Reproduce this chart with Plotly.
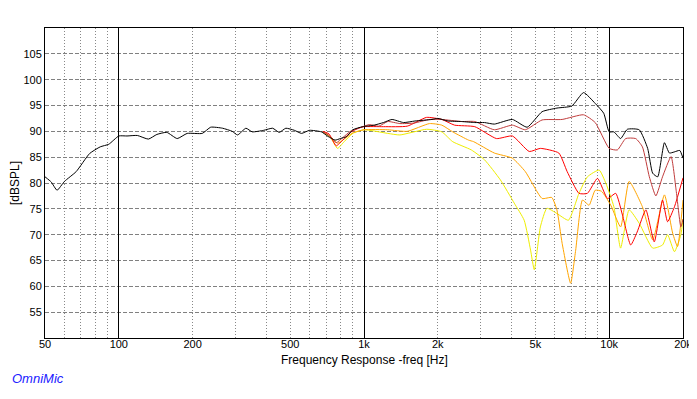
import plotly.graph_objects as go
import numpy as np

# ---------------- data ----------------
black_f = [50, 53, 56, 60, 67, 76, 84, 91, 100, 108, 119, 132, 143, 157, 173, 190, 219, 237, 265, 290,
           305, 330, 350, 390, 424, 451, 480, 520, 556, 600, 670, 714, 762, 800, 850, 900, 988, 1100,
           1200, 1300, 1450, 1613, 1893, 2000, 2200, 2500, 2830, 3100, 3400, 4029, 4628, 5325, 6122,
           7040, 7860, 8770, 9500, 10000, 10450, 11130, 11860, 13260, 14350, 15040, 15770, 16800,
           17600, 18400, 19400, 20000]
black_db = [81.2, 80.2, 78.6, 80.3, 82.2, 85.7, 87.0, 87.5, 89.1, 89.1, 89.2, 88.5, 89.4, 89.8, 88.6,
            89.6, 89.6, 90.8, 90.6, 90.0, 89.3, 90.6, 89.9, 90.2, 90.6, 89.8, 90.6, 90.2, 89.6, 90.2,
            89.9, 89.0, 88.3, 88.6, 89.0, 90.3, 90.9, 91.2, 91.7, 92.3, 91.7, 92.0, 92.3, 92.5, 92.0,
            91.9, 91.7, 91.7, 91.4, 92.3, 90.8, 93.8, 94.5, 94.9, 97.5, 95.4, 93.5, 89.9, 89.9, 88.6,
            90.4, 90.3, 86.7, 81.9, 81.2, 87.8, 85.8, 86.0, 86.3, 84.8]

brown_f = [680, 720, 770, 820, 880, 950, 1050, 1150, 1250, 1400, 1600, 1850, 2076, 2500, 2830, 3400,
           4029, 4550, 5325, 6430, 7860, 8770, 10000, 10800, 11670, 12830, 13660, 14580, 15500, 16500,
           17880, 18750, 19600, 20000]
brown_db = [89.9, 89.2, 87.8, 88.8, 90.0, 90.6, 91.3, 91.0, 91.9, 91.5, 91.6, 92.3, 92.3, 91.9, 91.9,
            90.3, 91.2, 90.3, 92.2, 92.3, 93.2, 91.7, 86.7, 86.4, 88.6, 88.6, 87.0, 81.2, 77.5, 81.2,
            85.1, 78.6, 71.5, 73.0]

red_f = [680, 720, 770, 820, 880, 950, 1000, 1200, 1500, 1800, 2076, 2340, 2830, 3470, 4029, 4720,
         5240, 6230, 6740, 7530, 8150, 8960, 9850, 10630, 11300, 12240, 13000, 14110, 15270, 16500,
         17300, 18460, 20000]
red_db = [90.0, 89.5, 87.2, 88.3, 89.8, 90.6, 90.9, 90.9, 91.0, 92.7, 92.3, 91.2, 90.9, 88.6, 89.1,
          86.1, 86.7, 85.8, 82.2, 78.0, 78.0, 80.9, 77.0, 78.0, 74.0, 68.0, 70.5, 74.8, 68.6, 76.7,
          72.5, 75.4, 81.0]

orange_f = [680, 730, 780, 830, 900, 1000, 1250, 1500, 1850, 2076, 2300, 2670, 2800, 3400, 4029,
            4550, 5325, 5830, 6120, 6430, 6960, 7300, 7780, 8280, 8770, 9300, 10150, 11130, 12060,
            13660, 15040, 16800, 18150, 19000, 20000]
orange_db = [89.9, 89.0, 87.7, 88.5, 89.7, 90.3, 90.3, 90.0, 91.5, 91.2, 89.9, 88.3, 88.0, 85.8,
             84.8, 82.2, 77.0, 77.2, 74.8, 68.3, 60.6, 67.0, 76.7, 75.7, 78.6, 78.4, 75.7, 71.5,
             80.3, 75.4, 69.0, 77.7, 70.3, 67.7, 76.7]

yellow_f = [680, 730, 780, 830, 900, 1000, 1250, 1400, 1800, 2076, 2300, 2740, 3100, 3600, 4100,
            4500, 4780, 4950, 5240, 5570, 6120, 6820, 7530, 8150, 9100, 9700, 10450, 11130, 12060,
            13260, 15040, 16500, 17300, 18460, 19600, 20000]
yellow_db = [89.9, 88.8, 86.7, 88.0, 89.6, 90.3, 89.6, 89.3, 90.4, 89.9, 88.0, 86.4, 84.5, 80.6,
             76.1, 72.8, 67.0, 63.2, 71.5, 75.1, 74.1, 72.8, 78.0, 81.2, 82.5, 79.9, 75.4, 67.4,
             74.8, 72.2, 67.4, 68.0, 70.0, 66.7, 70.0, 73.0]

minor_ticks = [50, 60, 70, 80, 90, 200, 300, 400, 500, 600, 700, 800, 900,
               2000, 3000, 4000, 5000, 6000, 7000, 8000, 9000, 20000]
major_ticks = [100, 1000, 10000]
label_map = {50: "50", 100: "100", 200: "200", 500: "500", 1000: "1k", 2000: "2k",
             5000: "5k", 10000: "10k", 20000: "20k"}
y_ticks = [55, 60, 65, 70, 75, 80, 85, 90, 95, 100, 105]

# ---------------- figure ----------------
fig = go.Figure()
series = [
    (yellow_f, yellow_db, "#eeee00"),
    (orange_f, orange_db, "#ffa500"),
    (red_f, red_db, "#ff0000"),
    (brown_f, brown_db, "#c03c3c"),
]
for f, d, c in series:
    fig.add_trace(go.Scatter(x=f, y=d, mode="lines", line=dict(color=c, width=1, shape="spline", smoothing=0.5),
                             showlegend=False, hoverinfo="skip"))
fig.add_trace(go.Scatter(x=black_f, y=black_db, mode="lines", xaxis="x2",
                         line=dict(color="#000000", width=1, shape="spline", smoothing=0.5),
                         showlegend=False, hoverinfo="skip"))

all_ticks = sorted(minor_ticks + major_ticks)
xr = [np.log10(50), np.log10(20000)]
fam = "Liberation Sans, Arial, sans-serif"
tickfont = dict(family=fam, size=11, color="#000000")

# page body has an 8px margin, so the figure is offset by 8px
fig.update_layout(
    width=689, height=391,
    margin=dict(l=37, r=14, t=20, b=61, autoexpand=False),
    paper_bgcolor="white", plot_bgcolor="white",
    xaxis=dict(type="log", range=xr, tickvals=all_ticks, automargin=False,
               ticktext=[label_map.get(t, "") for t in all_ticks],
               tickfont=tickfont, ticks="", ticklabeloverflow="allow", ticklabelstandoff=-4,
               showgrid=True, gridcolor="#888888",
               griddash="1px,2px", gridwidth=1, showline=True, linecolor="#000000",
               linewidth=1, mirror=True, zeroline=False),
    xaxis2=dict(type="log", range=xr, overlaying="x", tickvals=major_ticks, automargin=False,
                showticklabels=False, ticks="", showgrid=True, gridcolor="#000000",
                gridwidth=1, showline=False, zeroline=False),
    yaxis=dict(range=[50, 110], tickvals=y_ticks, tickfont=tickfont, ticks="", automargin=False,
               showgrid=True, gridcolor="#808080", griddash="4px,2px", gridwidth=1,
               showline=True, linecolor="#000000", linewidth=1, mirror=True, zeroline=False),
    annotations=[
        dict(text="Frequency Response -freq [Hz]", xref="paper", yref="paper", x=0.5, y=-0.07,
             xanchor="center", yanchor="middle", showarrow=False,
             font=dict(family=fam, size=12, color="#000000")),
        dict(text="[dBSPL]", xref="paper", yref="paper", x=-0.047, y=0.5, textangle=-90,
             xanchor="center", yanchor="middle", showarrow=False,
             font=dict(family=fam, size=12, color="#000000")),
        dict(text="<i>OmniMic</i>", xref="paper", yref="paper", x=-0.055, y=-0.132,
             xanchor="left", yanchor="middle", showarrow=False,
             font=dict(family=fam, size=13, color="#2020ff")),
    ],
)

fig.write_html("out.html")
